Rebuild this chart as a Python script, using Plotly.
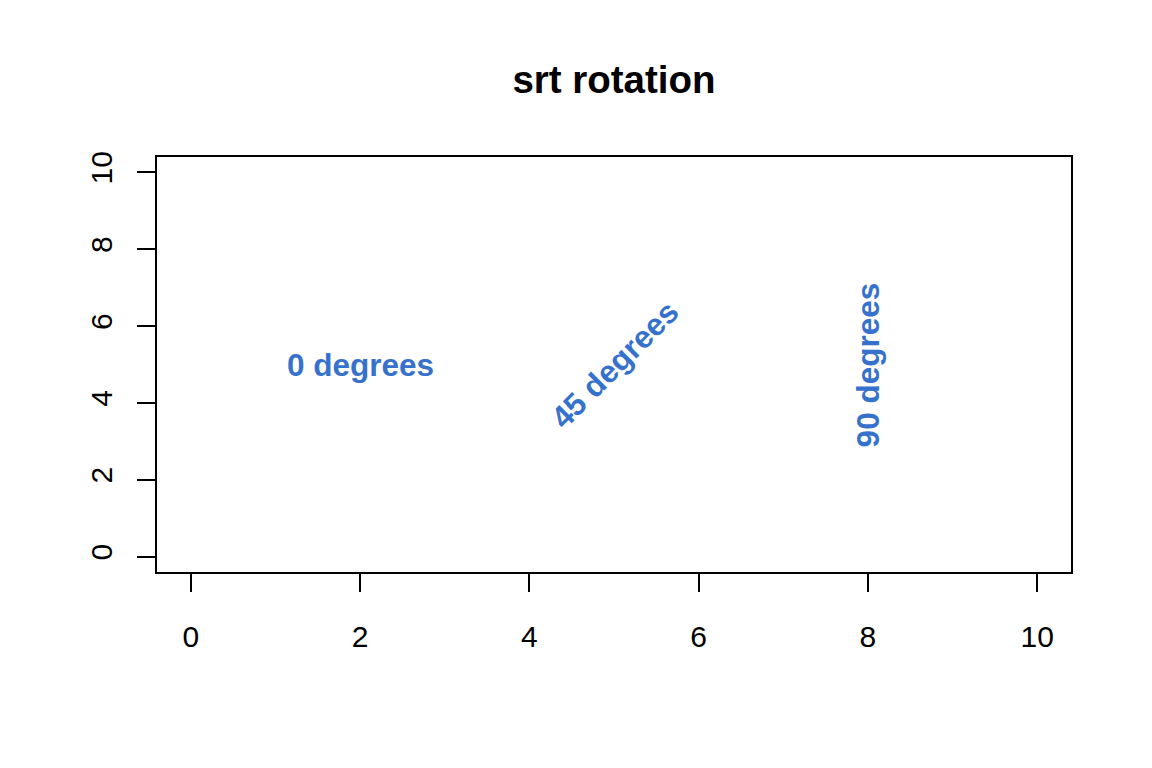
import plotly.graph_objects as go

labels = ["0 degrees", "45 degrees", "90 degrees"]
x_pos = [2, 5, 8]
y_pos = [5, 5, 5]
angles = [0, 45, 90]
tick_vals = [0, 2, 4, 6, 8, 10]

FONT = "Liberation Sans, Arial, Helvetica, sans-serif"
BLUE = "#3672CC"

fig = go.Figure()
fig.add_trace(go.Scatter(x=[None], y=[None], mode="markers", showlegend=False, hoverinfo="skip"))

for lab, xv, yv, ang in zip(labels, x_pos, y_pos, angles):
    fig.add_annotation(x=xv, y=yv, xref="x", yref="y", text="<b>%s</b>" % lab,
                       textangle=-ang, showarrow=False, xanchor="center", yanchor="middle",
                       font=dict(family=FONT, size=31.5, color=BLUE))

axis_common = dict(showgrid=False, zeroline=False, showline=True, linecolor="black",
                   linewidth=2, mirror=True, ticks="outside", ticklen=18, tickwidth=2,
                   tickcolor="black", tickvals=tick_vals,
                   tickfont=dict(family=FONT, size=30, color="black"))

fig.update_layout(
    width=1152, height=768,
    margin=dict(l=157, r=81, t=157, b=196),
    paper_bgcolor="white", plot_bgcolor="white",
    title=dict(text="<b>srt rotation</b>", x=0.5, xanchor="center", y=1 - 80 / 768, yanchor="middle",
               xref="paper", font=dict(family=FONT, size=38.5, color="black")),
    xaxis=dict(range=[-0.4, 10.4], ticklabelstandoff=19, **axis_common),
    yaxis=dict(range=[-0.4, 10.4], tickangle=-90, ticklabelstandoff=13, **axis_common),
)

fig.write_html("out.html")
